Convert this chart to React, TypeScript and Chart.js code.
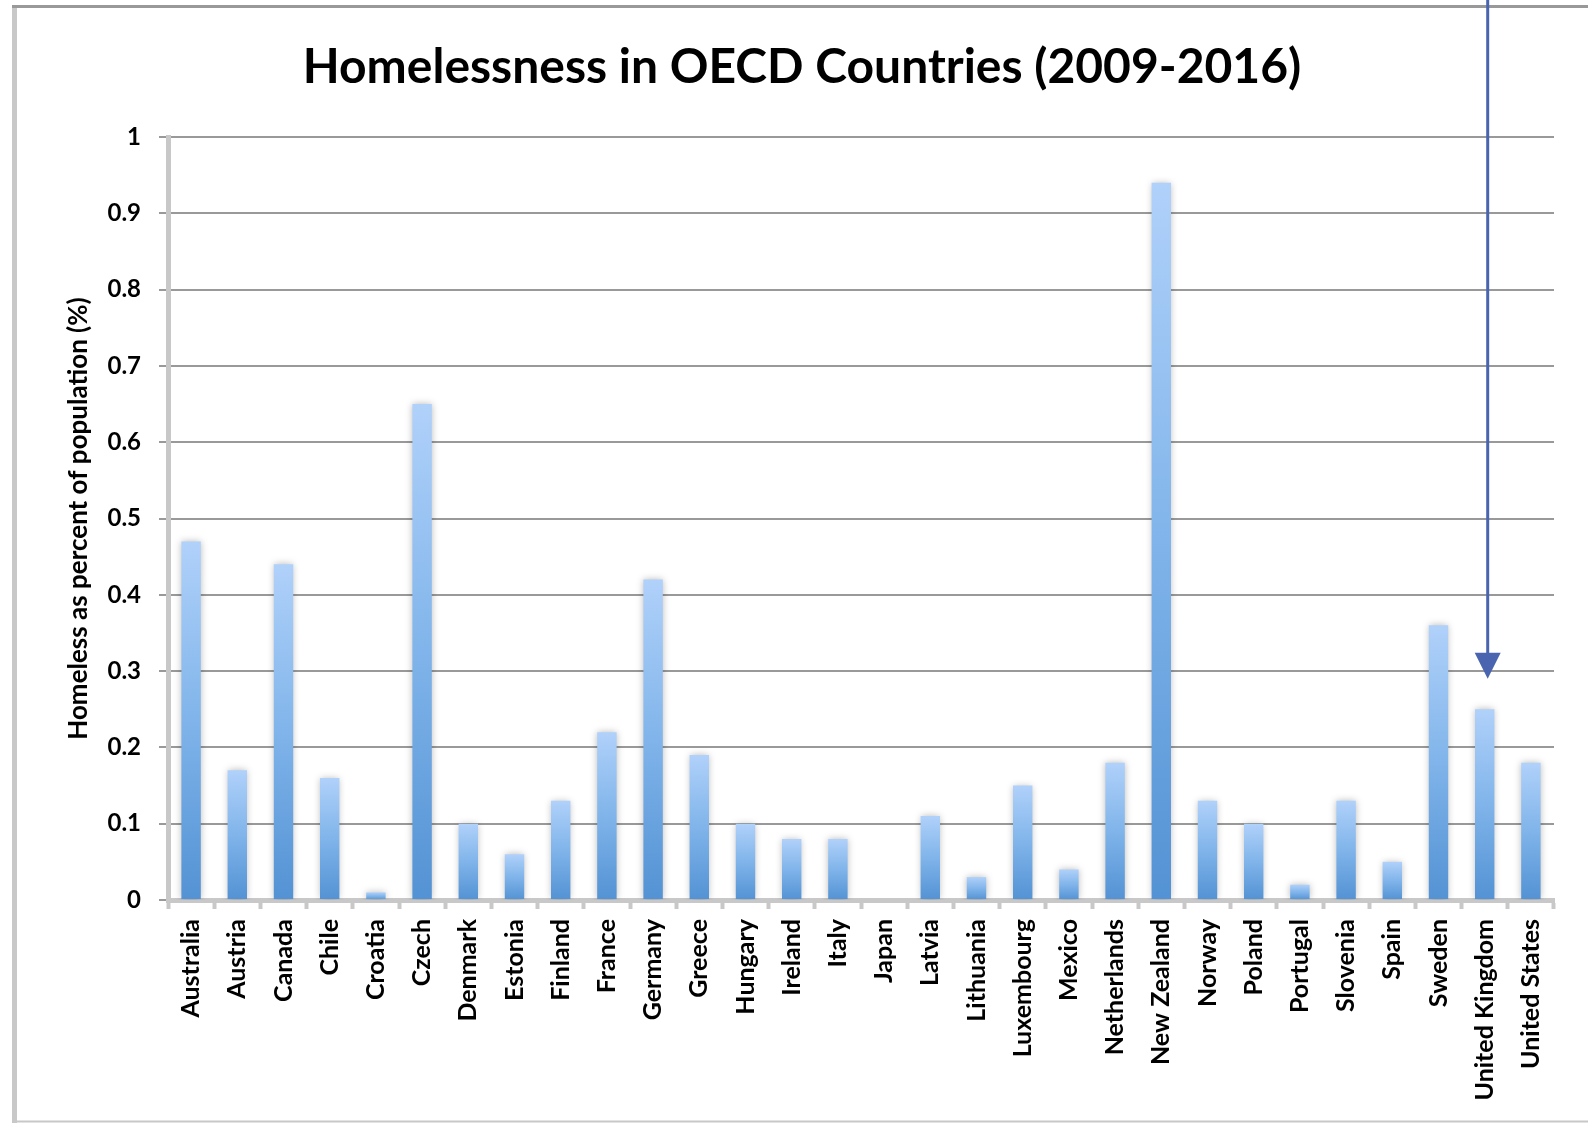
import React, { useEffect, useRef } from 'react';
import { Chart, registerables } from 'chart.js';

Chart.register(...registerables);

const chartTitle = 'Homelessness in OECD Countries (2009-2016)';
const yAxisTitle = 'Homeless as percent of population (%)';

const countries = [
  'Australia', 'Austria', 'Canada', 'Chile', 'Croatia', 'Czech', 'Denmark', 'Estonia',
  'Finland', 'France', 'Germany', 'Greece', 'Hungary', 'Ireland', 'Italy', 'Japan',
  'Latvia', 'Lithuania', 'Luxembourg', 'Mexico', 'Netherlands', 'New Zealand', 'Norway',
  'Poland', 'Portugal', 'Slovenia', 'Spain', 'Sweden', 'United Kingdom', 'United States',
];

const homelessPct = [
  0.47, 0.17, 0.44, 0.16, 0.01, 0.65, 0.10, 0.06,
  0.13, 0.22, 0.42, 0.19, 0.10, 0.08, 0.08, 0.0,
  0.11, 0.03, 0.15, 0.04, 0.18, 0.94, 0.13,
  0.10, 0.02, 0.13, 0.05, 0.36, 0.25, 0.18,
];

const yTickLabels = ['0', '0.1', '0.2', '0.3', '0.4', '0.5', '0.6', '0.7', '0.8', '0.9', '1'];

const arrowTarget = 'United Kingdom';
const arrowTipValue = 0.29;

const FONT = 'Lato';

const framePlugin = {
  id: 'frameAndTitle',
  beforeDraw(chart: any) {
    const { ctx, width, height } = chart;
    ctx.save();
    ctx.fillStyle = '#ffffff';
    ctx.fillRect(0, 0, width, height);
    // frame
    ctx.strokeStyle = '#c8c8c8';
    ctx.lineWidth = 5;
    ctx.beginPath();
    ctx.moveTo(14.5, 5);
    ctx.lineTo(14.5, height);
    ctx.stroke();
    ctx.lineWidth = 2;
    ctx.beginPath();
    ctx.moveTo(12, height - 1.5);
    ctx.lineTo(width, height - 1.5);
    ctx.stroke();
    ctx.strokeStyle = '#999999';
    ctx.lineWidth = 3;
    ctx.beginPath();
    ctx.moveTo(12, 6.5);
    ctx.lineTo(width, 6.5);
    ctx.stroke();
    // title
    ctx.fillStyle = '#000000';
    ctx.font = `bold 48px ${FONT}`;
    ctx.textAlign = 'center';
    ctx.textBaseline = 'middle';
    ctx.fillText(chartTitle, 802, 68);
    ctx.restore();
  },
};

const shadowPlugin = {
  id: 'barShadow',
  beforeDatasetsDraw(chart: any) {
    const { ctx } = chart;
    ctx.save();
    ctx.shadowColor = 'rgba(0,0,0,0.28)';
    ctx.shadowBlur = 7;
    ctx.shadowOffsetX = 0;
    ctx.shadowOffsetY = 0;
  },
  afterDatasetsDraw(chart: any) {
    chart.ctx.restore();
  },
};

const arrowPlugin = {
  id: 'arrow',
  afterDraw(chart: any) {
    const { ctx } = chart;
    const xs = chart.scales.x;
    const ys = chart.scales.y;
    const idx = countries.indexOf(arrowTarget);
    const x = xs.getPixelForValue(idx) + 3;
    const tipY = ys.getPixelForValue(arrowTipValue);
    const headH = 26;
    const headW = 26;
    ctx.save();
    ctx.strokeStyle = '#4a64b0';
    ctx.fillStyle = '#4a64b0';
    ctx.lineWidth = 3;
    ctx.beginPath();
    ctx.moveTo(x, 0);
    ctx.lineTo(x, tipY - headH + 2);
    ctx.stroke();
    ctx.beginPath();
    ctx.moveTo(x - headW / 2, tipY - headH);
    ctx.lineTo(x + headW / 2, tipY - headH);
    ctx.lineTo(x, tipY);
    ctx.closePath();
    ctx.fill();
    ctx.restore();
  },
};

function barGradient(context: any) {
  const chart = context.chart;
  const ys = chart.scales?.y;
  const value = context.raw;
  if (!ys || typeof value !== 'number' || !chart.chartArea) return '#7fb0e6';
  const top = ys.getPixelForValue(value);
  const base = ys.getPixelForValue(0);
  if (!isFinite(top) || !isFinite(base) || base - top < 1) return '#a9cbf7';
  const g = chart.ctx.createLinearGradient(0, top, 0, base);
  g.addColorStop(0, '#b0d1fa');
  g.addColorStop(0.5, '#80b4ea');
  g.addColorStop(1, '#5392d4');
  return g;
}

export default function App() {
  const canvasRef = useRef<HTMLCanvasElement | null>(null);

  useEffect(() => {
    if (!canvasRef.current) return;
    const chart = new Chart(canvasRef.current, {
      type: 'bar',
      data: {
        labels: countries,
        datasets: [
          {
            label: 'Homeless %',
            data: homelessPct,
            backgroundColor: barGradient,
            borderWidth: 0,
            barPercentage: 0.42,
            categoryPercentage: 1,
          },
        ],
      },
      options: {
        animation: false,
        responsive: true,
        maintainAspectRatio: false,
        devicePixelRatio: 1,
        layout: { padding: { left: 49, right: 34, top: 137, bottom: 0 } },
        plugins: {
          legend: { display: false },
          tooltip: { enabled: false },
          title: { display: false },
        },
        font: { family: FONT },
        scales: {
          x: {
            type: 'category',
            grid: {
              display: true,
              drawOnChartArea: false,
              drawTicks: true,
              tickLength: 9,
              tickColor: '#c8c8c8',
              tickWidth: 4,
              offset: true,
            },
            border: { display: true, color: '#c8c8c8', width: 5 },
            ticks: {
              autoSkip: false,
              minRotation: 90,
              maxRotation: 90,
              padding: 10,
              color: '#000000',
              font: { family: FONT, size: 25, weight: 'bold' },
            },
            afterFit: (s: any) => {
              s.height = 223;
            },
          },
          y: {
            type: 'linear',
            min: 0,
            max: 1,
            ticks: {
              stepSize: 0.1,
              padding: 18,
              color: '#000000',
              font: { family: FONT, size: 24, weight: 'bold' },
              callback: (_v: any, i: number) => yTickLabels[i],
            },
            grid: { color: '#999999', lineWidth: 2, tickLength: 9, drawTicks: true },
            border: { display: true, color: '#c8c8c8', width: 5 },
            title: {
              display: true,
              text: yAxisTitle,
              color: '#000000',
              font: { family: FONT, size: 26, weight: 'bold' },
              padding: { top: 14, bottom: 0 },
            },
            afterFit: (s: any) => {
              s.width = 119;
            },
          },
        },
      } as any,
      plugins: [framePlugin, shadowPlugin, arrowPlugin],
    });
    return () => chart.destroy();
  }, []);

  return (
    <div style={{ position: 'absolute', left: 0, top: 0, width: 1588, height: 1123 }}>
      <canvas ref={canvasRef} />
    </div>
  );
}
